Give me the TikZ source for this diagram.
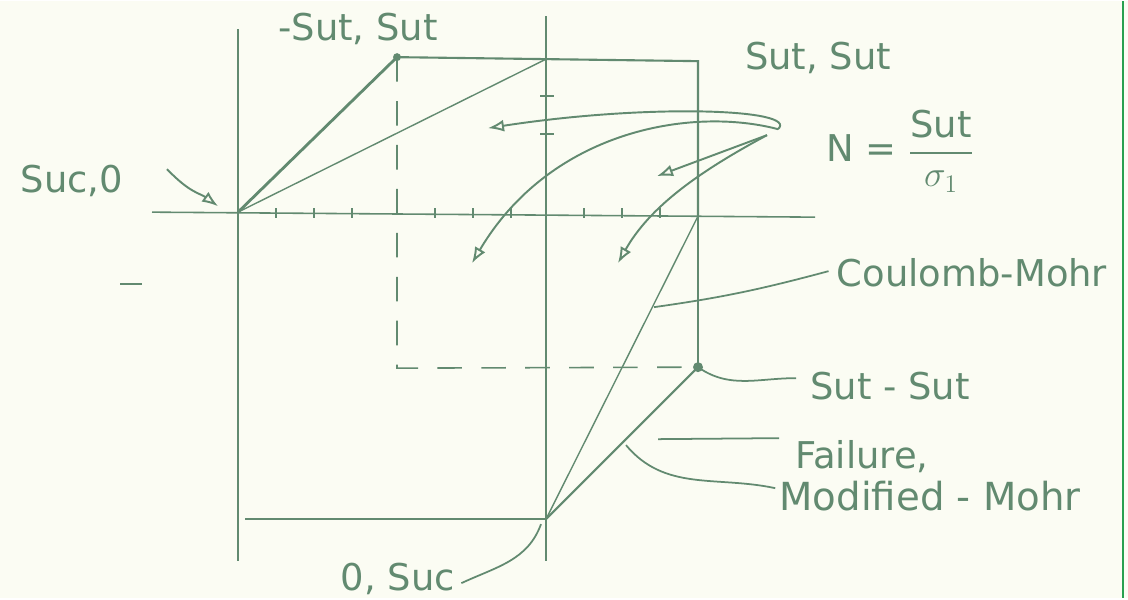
\documentclass[tikz,border=0pt]{standalone}
\usepackage{amsmath}
\usepackage{fontspec}
\setmainfont{DejaVu Sans}
\usepackage{tikz}
\usetikzlibrary{arrows.meta,calc}
\usepackage{xcolor}
\definecolor{pencil}{RGB}{98,138,112}
\definecolor{paper}{RGB}{251,252,243}
\definecolor{margin}{RGB}{40,160,80}

\begin{document}
\begin{tikzpicture}[
    x=0.02cm, y=-0.02cm,
    axis/.style={pencil, line width=0.9pt},
    edge/.style={pencil, line width=1.2pt},
    thinedge/.style={pencil, line width=0.8pt},
    hidden/.style={pencil, line width=0.9pt, dash pattern=on 14pt off 11pt},
    lead/.style={pencil, line width=1pt},
    pointer/.style={pencil, line width=1.1pt, -{Latex[open, length=3.2mm, width=2.4mm]}},
    hand/.style={font=\fontsize{21}{24}\selectfont, text=pencil, inner sep=0pt},
]
% Paper
\fill[paper] (0,0) rectangle (1128,597);
\draw[margin, line width=1.3pt] (1123,0) -- (1123,597);

% Corner points
\coordinate (Suc0) at (238,211);
\coordinate (O)    at (546,213);
\coordinate (TL)   at (397,56);
\coordinate (TM)   at (546,58);
\coordinate (TR)   at (698,60);
\coordinate (R0)   at (698,215);
\coordinate (BR)   at (698,366);
\coordinate (DL)   at (397,367);
\coordinate (B0)   at (546,518);
\coordinate (BL)   at (245,518);

% Axes
\draw[axis] (152,211) -- (815,216);
\draw[axis] (546,15) -- (546,560);
\draw[thinedge] (238,28) -- (Suc0);
\draw[edge] (Suc0) -- (238,560);
\foreach \x in {276,314,352,435,473,511,584,622,660} {
    \draw[thinedge] (\x,207) -- (\x,217);
}
\foreach \y in {95,133} {
    \draw[thinedge] (540,\y) -- (554,\y);
}
\draw[thinedge] (120,283) -- (142,283);

% Limits
\draw[edge] (TL) -- (TR) -- (R0);
\draw[thinedge] (R0) -- (BR);
\draw[hidden] (TL) -- (DL) -- (BR);
\draw[edge] (BL) -- (B0);

% Failure lines
\draw[edge, line width=1.6pt] (Suc0) -- (TL);
\draw[thinedge] (Suc0) -- (TM);
\draw[thinedge] (B0) -- (R0);
\draw[edge] (B0) -- (BR);
\fill[pencil] (TL) circle (4);
\fill[pencil] (BR) circle (5);

% Labels
\node[hand] (lblTL) at (358,28)  {-Sut, Sut};
\node[hand] (lblTR) at (818,57)  {Sut, Sut};
\node[hand] (lblN)  at (900,150) {N = $\dfrac{\text{Sut}}{\sigma_{1}}$};
\node[hand] (lblSuc) at (72,180) {Suc,0};
\node[hand] (lblCM) at (972,272) {Coulomb-Mohr};
\node[hand] (lblSS) at (890,385) {Sut - Sut};
\node[hand] (lblF)  at (862,455) {Failure,};
\node[hand, font=\fontsize{22}{24}\selectfont] (lblMM) at (930,495) {Modified - Mohr};
\node[hand] (lblOS) at (398,578) {0, Suc};

% Leaders
\coordinate (sucTip) at (218,205);
\coordinate (cmFoot) at (654,306);
\coordinate (fFoot)  at (658,438);
\coordinate (mmFoot) at (626,444);
\coordinate (osFoot) at (541,523);
\draw[pointer] (167,168) .. controls (190,192) and (200,192) .. (sucTip);
\draw[lead] (lblCM.west) ++(-8,-2) to[out=195, in=8] (cmFoot);
\draw[lead] (lblSS.west) ++(-14,-8) to[out=180, in=-35] (BR);
\draw[lead] (lblF.west) ++(-16,-18) -- (fFoot);
\draw[lead] (lblMM.west) ++(-4,-8) to[out=168, in=-50] (mmFoot);
\draw[lead] (lblOS.east) ++(6,4) to[out=25, in=-110] (osFoot);

% Pointers from N
\coordinate (nHub) at (778,128);
\coordinate (nTip1) at (488,127);
\coordinate (nTip2) at (472,262);
\coordinate (nTip3) at (657,175);
\coordinate (nTip4) at (618,262);
\draw[pointer] (nHub) .. controls (800,108) and (650,102) .. (nTip1);
\draw[pointer] (nHub) .. controls (690,105) and (550,130) .. (nTip2);
\draw[pointer] (767,134) -- (nTip3);
\draw[pointer] (767,134) .. controls (700,170) and (650,205) .. (nTip4);
\end{tikzpicture}
\end{document}
